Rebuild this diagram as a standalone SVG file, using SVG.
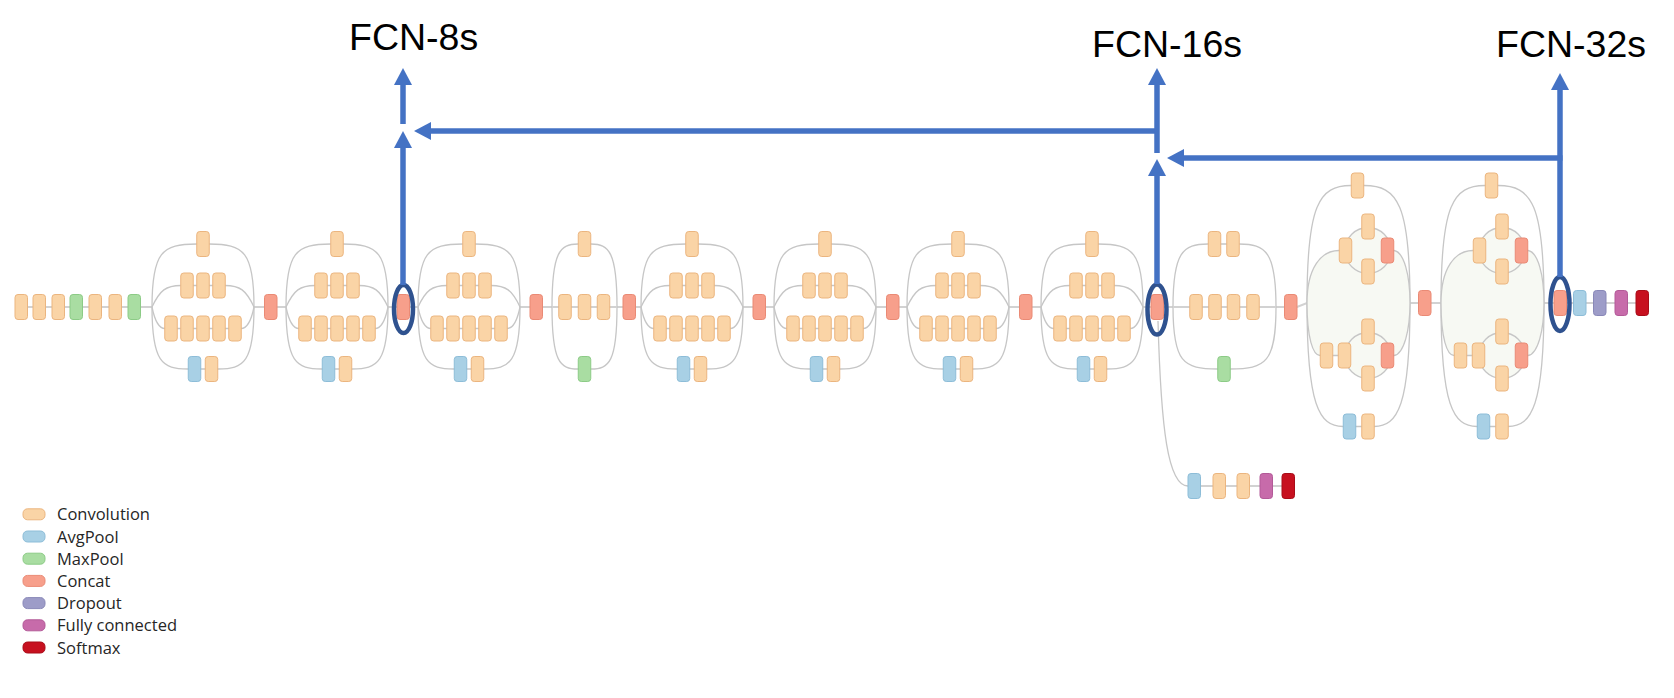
<svg xmlns="http://www.w3.org/2000/svg" xmlns:xlink="http://www.w3.org/1999/xlink" width="1674" height="698" viewBox="0 0 1674 698">
<style>
.cv{fill:#FAD4A6;stroke:#EBB57F;stroke-width:1}
.ap{fill:#A8D0E5;stroke:#8DBDD8;stroke-width:1}
.mp{fill:#A9DDA2;stroke:#8CCB86;stroke-width:1}
.cc{fill:#F79F8B;stroke:#EA8A75;stroke-width:1}
.dp{fill:#9D9CC8;stroke:#8988B8;stroke-width:1}
.fc{fill:#C76BAA;stroke:#B35A98;stroke-width:1}
.sm{fill:#C7101F;stroke:#A80C18;stroke-width:1}
.ln{fill:none;stroke:#D2D2D2;stroke-width:2}
.cu{fill:none;stroke:#C6C6C6;stroke-width:1.3}
.out{fill:#FFFFFF;stroke:#C6C6C6;stroke-width:1.3}
.blob{fill:#F7F9F3;stroke:#C6C6C6;stroke-width:1.3}
.ring{fill:none;stroke:#2F528F;stroke-width:4.5}
.arr{fill:none;stroke:#4472C4;stroke-width:5.5;marker-end:url(#ah)}
.lbl{font-family:"Liberation Sans",Arial,sans-serif;font-size:37.5px;fill:#000}
.leg{font-family:"Open Sans","Liberation Sans",sans-serif;font-size:16.5px;fill:#262626}
</style>
<defs>
<rect id="b" width="12.5" height="25" rx="3"/>
<rect id="sw" width="22" height="11" rx="4.5"/>
<marker id="ah" markerUnits="userSpaceOnUse" markerWidth="18" markerHeight="18" viewBox="0 0 17 18" refX="1" refY="9" orient="auto"><path d="M0,0 L17,9 L0,18 Z" fill="#4472C4"/></marker>
</defs>

<g id="connectors">
<path class="ln" d="M15,307 H1297 L1307,303 H1648"/>
<path class="cu" d="M1158,321 C1161,430 1168,486 1188,486"/>
<path class="ln" d="M1188,486 H1294"/>
</g>

<g id="stem">
<use xlink:href="#b" class="cv" x="15" y="294.5"/>
<use xlink:href="#b" class="cv" x="33" y="294.5"/>
<use xlink:href="#b" class="cv" x="52" y="294.5"/>
<use xlink:href="#b" class="mp" x="70" y="294.5"/>
<use xlink:href="#b" class="cv" x="89" y="294.5"/>
<use xlink:href="#b" class="cv" x="109" y="294.5"/>
<use xlink:href="#b" class="mp" x="128" y="294.5"/>
</g>

<g id="inception-1">
<path class="out" d="M152,307 C152,252 162,244 197,244 H209 C244,244 254,252 254,307 C254,362 244,369 218,369 H188 C162,369 152,362 152,307 Z"/>
<path class="cu" d="M152,307 C160,290 166,285.5 181,285.5 H225 C240,285.5 246,290 254,307"/>
<path class="cu" d="M152,307 C155,322 159,328.5 165,328.5 H241 C247,328.5 251,322 254,307"/>
<use xlink:href="#b" class="cv" x="196.75" y="231.5"/>
<use xlink:href="#b" class="cv" x="180.75" y="273"/><use xlink:href="#b" class="cv" x="196.75" y="273"/><use xlink:href="#b" class="cv" x="212.75" y="273"/>
<use xlink:href="#b" class="cv" x="164.75" y="316"/><use xlink:href="#b" class="cv" x="180.75" y="316"/><use xlink:href="#b" class="cv" x="196.75" y="316"/><use xlink:href="#b" class="cv" x="212.75" y="316"/><use xlink:href="#b" class="cv" x="228.75" y="316"/>
<use xlink:href="#b" class="ap" x="188.25" y="356.5"/><use xlink:href="#b" class="cv" x="205.25" y="356.5"/>
</g>

<g id="inception-2">
<path class="out" d="M286,307 C286,252 296,244 331,244 H343 C378,244 388,252 388,307 C388,362 378,369 352,369 H322 C296,369 286,362 286,307 Z"/>
<path class="cu" d="M286,307 C294,290 300,285.5 315,285.5 H359 C374,285.5 380,290 388,307"/>
<path class="cu" d="M286,307 C289,322 293,328.5 299,328.5 H375 C381,328.5 385,322 388,307"/>
<use xlink:href="#b" class="cv" x="330.75" y="231.5"/>
<use xlink:href="#b" class="cv" x="314.75" y="273"/><use xlink:href="#b" class="cv" x="330.75" y="273"/><use xlink:href="#b" class="cv" x="346.75" y="273"/>
<use xlink:href="#b" class="cv" x="298.75" y="316"/><use xlink:href="#b" class="cv" x="314.75" y="316"/><use xlink:href="#b" class="cv" x="330.75" y="316"/><use xlink:href="#b" class="cv" x="346.75" y="316"/><use xlink:href="#b" class="cv" x="362.75" y="316"/>
<use xlink:href="#b" class="ap" x="322.25" y="356.5"/><use xlink:href="#b" class="cv" x="339.25" y="356.5"/>
</g>

<g id="inception-3">
<path class="out" d="M418,307 C418,252 428,244 463,244 H475 C510,244 520,252 520,307 C520,362 510,369 484,369 H454 C428,369 418,362 418,307 Z"/>
<path class="cu" d="M418,307 C426,290 432,285.5 447,285.5 H491 C506,285.5 512,290 520,307"/>
<path class="cu" d="M418,307 C421,322 425,328.5 431,328.5 H507 C513,328.5 517,322 520,307"/>
<use xlink:href="#b" class="cv" x="462.75" y="231.5"/>
<use xlink:href="#b" class="cv" x="446.75" y="273"/><use xlink:href="#b" class="cv" x="462.75" y="273"/><use xlink:href="#b" class="cv" x="478.75" y="273"/>
<use xlink:href="#b" class="cv" x="430.75" y="316"/><use xlink:href="#b" class="cv" x="446.75" y="316"/><use xlink:href="#b" class="cv" x="462.75" y="316"/><use xlink:href="#b" class="cv" x="478.75" y="316"/><use xlink:href="#b" class="cv" x="494.75" y="316"/>
<use xlink:href="#b" class="ap" x="454.25" y="356.5"/><use xlink:href="#b" class="cv" x="471.25" y="356.5"/>
</g>

<g id="reduction-1">
<path class="out" d="M552,307 C552,252 560,244 578,244 H591 C609,244 617,252 617,307 C617,362 609,369 591,369 H578 C560,369 552,362 552,307 Z"/>
<path class="ln" d="M552,307 H617"/>
<use xlink:href="#b" class="cv" x="578.25" y="231.5"/>
<use xlink:href="#b" class="cv" x="558.75" y="294.5"/><use xlink:href="#b" class="cv" x="578.25" y="294.5"/><use xlink:href="#b" class="cv" x="597.25" y="294.5"/>
<use xlink:href="#b" class="mp" x="578.25" y="356.5"/>
</g>

<g id="inception-4">
<path class="out" d="M641,307 C641,252 651,244 686,244 H698 C733,244 743,252 743,307 C743,362 733,369 707,369 H677 C651,369 641,362 641,307 Z"/>
<path class="cu" d="M641,307 C649,290 655,285.5 670,285.5 H714 C729,285.5 735,290 743,307"/>
<path class="cu" d="M641,307 C644,322 648,328.5 654,328.5 H730 C736,328.5 740,322 743,307"/>
<use xlink:href="#b" class="cv" x="685.75" y="231.5"/>
<use xlink:href="#b" class="cv" x="669.75" y="273"/><use xlink:href="#b" class="cv" x="685.75" y="273"/><use xlink:href="#b" class="cv" x="701.75" y="273"/>
<use xlink:href="#b" class="cv" x="653.75" y="316"/><use xlink:href="#b" class="cv" x="669.75" y="316"/><use xlink:href="#b" class="cv" x="685.75" y="316"/><use xlink:href="#b" class="cv" x="701.75" y="316"/><use xlink:href="#b" class="cv" x="717.75" y="316"/>
<use xlink:href="#b" class="ap" x="677.25" y="356.5"/><use xlink:href="#b" class="cv" x="694.25" y="356.5"/>
</g>

<g id="inception-5">
<path class="out" d="M774,307 C774,252 784,244 819,244 H831 C866,244 876,252 876,307 C876,362 866,369 840,369 H810 C784,369 774,362 774,307 Z"/>
<path class="cu" d="M774,307 C782,290 788,285.5 803,285.5 H847 C862,285.5 868,290 876,307"/>
<path class="cu" d="M774,307 C777,322 781,328.5 787,328.5 H863 C869,328.5 873,322 876,307"/>
<use xlink:href="#b" class="cv" x="818.75" y="231.5"/>
<use xlink:href="#b" class="cv" x="802.75" y="273"/><use xlink:href="#b" class="cv" x="818.75" y="273"/><use xlink:href="#b" class="cv" x="834.75" y="273"/>
<use xlink:href="#b" class="cv" x="786.75" y="316"/><use xlink:href="#b" class="cv" x="802.75" y="316"/><use xlink:href="#b" class="cv" x="818.75" y="316"/><use xlink:href="#b" class="cv" x="834.75" y="316"/><use xlink:href="#b" class="cv" x="850.75" y="316"/>
<use xlink:href="#b" class="ap" x="810.25" y="356.5"/><use xlink:href="#b" class="cv" x="827.25" y="356.5"/>
</g>

<g id="inception-6">
<path class="out" d="M907,307 C907,252 917,244 952,244 H964 C999,244 1009,252 1009,307 C1009,362 999,369 973,369 H943 C917,369 907,362 907,307 Z"/>
<path class="cu" d="M907,307 C915,290 921,285.5 936,285.5 H980 C995,285.5 1001,290 1009,307"/>
<path class="cu" d="M907,307 C910,322 914,328.5 920,328.5 H996 C1002,328.5 1006,322 1009,307"/>
<use xlink:href="#b" class="cv" x="951.75" y="231.5"/>
<use xlink:href="#b" class="cv" x="935.75" y="273"/><use xlink:href="#b" class="cv" x="951.75" y="273"/><use xlink:href="#b" class="cv" x="967.75" y="273"/>
<use xlink:href="#b" class="cv" x="919.75" y="316"/><use xlink:href="#b" class="cv" x="935.75" y="316"/><use xlink:href="#b" class="cv" x="951.75" y="316"/><use xlink:href="#b" class="cv" x="967.75" y="316"/><use xlink:href="#b" class="cv" x="983.75" y="316"/>
<use xlink:href="#b" class="ap" x="943.25" y="356.5"/><use xlink:href="#b" class="cv" x="960.25" y="356.5"/>
</g>

<g id="inception-7">
<path class="out" d="M1041,307 C1041,252 1051,244 1086,244 H1098 C1133,244 1143,252 1143,307 C1143,362 1133,369 1107,369 H1077 C1051,369 1041,362 1041,307 Z"/>
<path class="cu" d="M1041,307 C1049,290 1055,285.5 1070,285.5 H1114 C1129,285.5 1135,290 1143,307"/>
<path class="cu" d="M1041,307 C1044,322 1048,328.5 1054,328.5 H1130 C1136,328.5 1140,322 1143,307"/>
<use xlink:href="#b" class="cv" x="1085.75" y="231.5"/>
<use xlink:href="#b" class="cv" x="1069.75" y="273"/><use xlink:href="#b" class="cv" x="1085.75" y="273"/><use xlink:href="#b" class="cv" x="1101.75" y="273"/>
<use xlink:href="#b" class="cv" x="1053.75" y="316"/><use xlink:href="#b" class="cv" x="1069.75" y="316"/><use xlink:href="#b" class="cv" x="1085.75" y="316"/><use xlink:href="#b" class="cv" x="1101.75" y="316"/><use xlink:href="#b" class="cv" x="1117.75" y="316"/>
<use xlink:href="#b" class="ap" x="1077.25" y="356.5"/><use xlink:href="#b" class="cv" x="1094.25" y="356.5"/>
</g>

<g id="reduction-2">
<path class="out" d="M1173,307 C1173,252 1183,244 1208,244 H1239 C1266,244 1276,252 1276,307 C1276,362 1266,369 1230,369 H1218 C1183,369 1173,362 1173,307 Z"/>
<path class="ln" d="M1173,307 H1276"/>
<use xlink:href="#b" class="cv" x="1208.25" y="231.5"/><use xlink:href="#b" class="cv" x="1226.75" y="231.5"/>
<use xlink:href="#b" class="cv" x="1189.75" y="294.5"/><use xlink:href="#b" class="cv" x="1208.75" y="294.5"/><use xlink:href="#b" class="cv" x="1227.25" y="294.5"/><use xlink:href="#b" class="cv" x="1246.75" y="294.5"/>
<use xlink:href="#b" class="mp" x="1217.75" y="356.5"/>
</g>

<g id="inception-8">
<path class="out" d="M1307,303 C1307,205 1319,185.5 1351,185.5 H1364 C1398,185.5 1410,205 1410,303 C1410,405 1398,426.5 1374,426.5 H1343 C1319,426.5 1307,405 1307,303 Z"/>
<path class="blob" d="M1307,303 C1307,268 1321,250.5 1339,250.5 H1394 C1404,252 1410,275 1410,303 C1410,330 1404,354 1394,355.5 H1320 C1313,355.5 1307,338 1307,303 Z"/>
<circle class="blob" cx="1368" cy="250.5" r="23"/>
<circle class="blob" cx="1368" cy="355.5" r="23"/>
<use xlink:href="#b" class="cv" x="1351.25" y="173"/>
<use xlink:href="#b" class="cv" x="1361.75" y="214"/><use xlink:href="#b" class="cv" x="1339.25" y="238"/><use xlink:href="#b" class="cc" x="1381.25" y="238"/><use xlink:href="#b" class="cv" x="1361.75" y="259"/>
<use xlink:href="#b" class="cv" x="1361.75" y="319"/><use xlink:href="#b" class="cv" x="1320.25" y="343"/><use xlink:href="#b" class="cv" x="1338.25" y="343"/><use xlink:href="#b" class="cc" x="1381.25" y="343"/><use xlink:href="#b" class="cv" x="1361.75" y="366"/>
<use xlink:href="#b" class="ap" x="1343.25" y="414"/><use xlink:href="#b" class="cv" x="1361.75" y="414"/>
</g>

<g id="inception-9">
<path class="out" d="M1441,303 C1441,205 1453,185.5 1485,185.5 H1498 C1532,185.5 1544,205 1544,303 C1544,405 1532,426.5 1508,426.5 H1477 C1453,426.5 1441,405 1441,303 Z"/>
<path class="blob" d="M1441,303 C1441,268 1455,250.5 1473,250.5 H1528 C1538,252 1544,275 1544,303 C1544,330 1538,354 1528,355.5 H1454 C1447,355.5 1441,338 1441,303 Z"/>
<circle class="blob" cx="1502" cy="250.5" r="23"/>
<circle class="blob" cx="1502" cy="355.5" r="23"/>
<use xlink:href="#b" class="cv" x="1485.25" y="173"/>
<use xlink:href="#b" class="cv" x="1495.75" y="214"/><use xlink:href="#b" class="cv" x="1473.25" y="238"/><use xlink:href="#b" class="cc" x="1515.25" y="238"/><use xlink:href="#b" class="cv" x="1495.75" y="259"/>
<use xlink:href="#b" class="cv" x="1495.75" y="319"/><use xlink:href="#b" class="cv" x="1454.25" y="343"/><use xlink:href="#b" class="cv" x="1472.25" y="343"/><use xlink:href="#b" class="cc" x="1515.25" y="343"/><use xlink:href="#b" class="cv" x="1495.75" y="366"/>
<use xlink:href="#b" class="ap" x="1477.25" y="414"/><use xlink:href="#b" class="cv" x="1495.75" y="414"/>
</g>

<g id="concats">
<use xlink:href="#b" class="cc" x="264.5" y="294.5"/>
<use xlink:href="#b" class="cc" x="397" y="294.5"/>
<use xlink:href="#b" class="cc" x="530" y="294.5"/>
<use xlink:href="#b" class="cc" x="623" y="294.5"/>
<use xlink:href="#b" class="cc" x="753" y="294.5"/>
<use xlink:href="#b" class="cc" x="886.5" y="294.5"/>
<use xlink:href="#b" class="cc" x="1019.5" y="294.5"/>
<use xlink:href="#b" class="cc" x="1151" y="294.5"/>
<use xlink:href="#b" class="cc" x="1284.5" y="294.5"/>
<use xlink:href="#b" class="cc" x="1418.5" y="290.5"/>
<use xlink:href="#b" class="cc" x="1554" y="290.5"/>
</g>

<g id="aux-classifier">
<use xlink:href="#b" class="ap" x="1188" y="473.5"/>
<use xlink:href="#b" class="cv" x="1213" y="473.5"/>
<use xlink:href="#b" class="cv" x="1237" y="473.5"/>
<use xlink:href="#b" class="fc" x="1260" y="473.5"/>
<use xlink:href="#b" class="sm" x="1282" y="473.5"/>
</g>

<g id="classifier">
<use xlink:href="#b" class="ap" x="1573.5" y="290.5"/>
<use xlink:href="#b" class="dp" x="1593.5" y="290.5"/>
<use xlink:href="#b" class="fc" x="1615" y="290.5"/>
<use xlink:href="#b" class="sm" x="1636" y="290.5"/>
</g>

<g id="taps">
<ellipse class="ring" cx="403.5" cy="309" rx="9.5" ry="24"/>
<ellipse class="ring" cx="1157" cy="309.5" rx="9.5" ry="25"/>
<ellipse class="ring" cx="1560" cy="304" rx="9.5" ry="27"/>
</g>

<g id="fcn-connectors">
<path class="arr" d="M403,285 V147"/>
<path class="arr" d="M403,124 V84"/>
<path class="arr" d="M1159,131 H430"/>
<path class="arr" d="M1157,284 V175"/>
<path class="arr" d="M1157,153 V84"/>
<path class="arr" d="M1562.5,158 H1183"/>
<path class="arr" d="M1560,277 V89"/>
</g>

<g id="fcn-8s"><text class="lbl" x="349" y="50">FCN-8s</text></g>
<g id="fcn-16s"><text class="lbl" x="1092" y="57">FCN-16s</text></g>
<g id="fcn-32s"><text class="lbl" x="1496" y="57">FCN-32s</text></g>

<g id="legend">
<use xlink:href="#sw" class="cv" x="23" y="508.8"/><text class="leg" x="57" y="520.3">Convolution</text>
<use xlink:href="#sw" class="ap" x="23" y="531" /><text class="leg" x="57" y="542.5">AvgPool</text>
<use xlink:href="#sw" class="mp" x="23" y="553.2"/><text class="leg" x="57" y="564.7">MaxPool</text>
<use xlink:href="#sw" class="cc" x="23" y="575.4"/><text class="leg" x="57" y="586.9">Concat</text>
<use xlink:href="#sw" class="dp" x="23" y="597.6"/><text class="leg" x="57" y="609.1">Dropout</text>
<use xlink:href="#sw" class="fc" x="23" y="619.8"/><text class="leg" x="57" y="631.3">Fully connected</text>
<use xlink:href="#sw" class="sm" x="23" y="642"/><text class="leg" x="57" y="653.5">Softmax</text>
</g>
</svg>
